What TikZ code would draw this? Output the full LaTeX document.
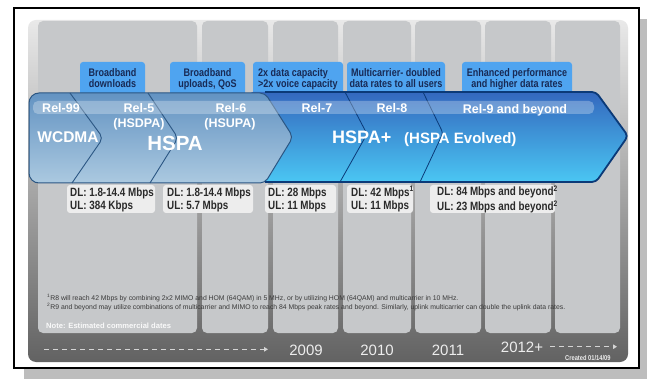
\documentclass[tikz,border=0pt]{standalone}
\usepackage{fontspec}
\setmainfont{Liberation Sans}
\newfontfamily\narrowfont[FakeStretch=0.82]{Liberation Sans}
\usetikzlibrary{arrows.meta}

% palette
\definecolor{shadowgray}{HTML}{BDBDBD}
\definecolor{colgray}{HTML}{C6C8CA}
\definecolor{tagblue}{HTML}{4FA4F0}
\definecolor{tagink}{HTML}{182A55}
\definecolor{boxfill}{HTML}{EDEDED}
\definecolor{boxink}{HTML}{2A2A2A}
\definecolor{yearink}{HTML}{EDEDED}
\definecolor{noteink}{HTML}{3A3A3A}
\definecolor{dashgray}{HTML}{D5D5D5}
\definecolor{olddark}{HTML}{2B5683}
\definecolor{navy}{HTML}{0B3A78}
% panel background
\definecolor{pbot}{HTML}{626262}
\definecolor{pmid}{HTML}{ABABAB}
\definecolor{ptop}{HTML}{E9E9E9}
% HSPA+ body
\definecolor{hbBottom}{HTML}{4AC6F3}
\definecolor{hbMiddle}{HTML}{3A92DD}
\definecolor{hbTop}{HTML}{3468BE}
% WCDMA / HSPA body
\definecolor{obBottom}{HTML}{ABC9E0}
\definecolor{obMiddle}{HTML}{8BB1D3}
\definecolor{obTop}{HTML}{6393C2}

\begin{document}
\begin{tikzpicture}[x=1pt,y=-1pt,
  column/.style={fill=colgray, rounded corners=5pt},
  tagbox/.style={fill=tagblue, rounded corners=3pt, inner sep=0pt, minimum height=34pt},
  tagtext/.style={text=tagink, font=\narrowfont\bfseries\fontsize{11}{11.5}\selectfont, inner sep=0pt},
  databox/.style={fill=boxfill, rounded corners=3pt, inner sep=0pt, minimum height=28pt},
  datatext/.style={text=boxink, font=\narrowfont\bfseries\fontsize{12}{13.3}\selectfont, inner sep=0pt, align=left, anchor=west},
  rel/.style={text=white, font=\bfseries\fontsize{12.5}{14}\selectfont, inner sep=0pt, anchor=base},
  bigname/.style={text=white, inner sep=0pt},
  yearlabel/.style={text=yearink, font=\fontsize{15}{16}\selectfont, inner sep=0pt, anchor=base},
  fnote/.style={text=noteink, font=\fontsize{6.85}{7}\selectfont, inner sep=0pt, anchor=base west},
  timeline/.style={draw=dashgray, line width=1.3pt, dash pattern=on 5pt off 4pt, -{Triangle[length=4pt,width=4.5pt]}},
  olddivider/.style={draw=olddark, line width=0.9pt, rounded corners=5pt},
  newdivider/.style={draw=navy, line width=0.8pt, rounded corners=3pt},
]
\useasboundingbox (0,0) rectangle (647,379);

% drop shadow and frame
\fill[shadowgray] (24,19) rectangle (648,380);
\draw[black, line width=2.3pt, fill=white] (14,8) rectangle (639,368);

% timeline panel and year columns
\shade[top color=ptop, middle color=pmid, bottom color=pbot, rounded corners=8pt] (28,20) rectangle (628,362);
\fill[column] (38,21) rectangle (197,333);
\fill[column] (202,21) rectangle (268,333);
\fill[column] (273,21) rectangle (338,333);
\fill[column] (343,21) rectangle (411,333);
\fill[column] (415,21) rectangle (481,333);
\fill[column] (485,21) rectangle (551,333);
\fill[column] (555,21) rectangle (620,333);

% feature tags
\node[tagbox, minimum width=65pt] (t1) at (112.5,79) {};
\node[tagtext, align=center] (t1text) at (112.5,79.5) {\strut Broadband\\\strut downloads};
\node[tagbox, minimum width=75pt] (t2) at (207.5,79) {};
\node[tagtext, align=center] (t2text) at (207.5,79.5) {\strut Broadband\\\strut uploads, QoS};
\node[tagbox, minimum width=90pt] (t3) at (298,79) {};
\node[tagtext, align=left, anchor=west] (t3text) at (258,79.5) {\strut 2x data capacity\\\strut >2x voice capacity};
\node[tagbox, minimum width=98pt] (t4) at (396,79) {};
\node[tagtext, align=center] (t4text) at (396,79.5) {\strut Multicarrier- doubled\\\strut data rates to all users};
\node[tagbox, minimum width=110pt] (t5) at (517,79) {};
\node[tagtext, align=center] (t5text) at (517,79.5) {\strut Enhanced performance\\\strut and higher data rates};

% peak rate boxes
\node[databox, minimum width=88pt] (b1) at (111,199) {};
\node[datatext] (b1text) at (70,200) {\strut DL: 1.8-14.4 Mbps\\\strut UL: 384 Kbps};
\node[databox, minimum width=90pt] (b2) at (208,199) {};
\node[datatext] (b2text) at (167,200) {\strut DL: 1.8-14.4 Mbps\\\strut UL: 5.7 Mbps};
\node[databox, minimum width=71pt] (b3) at (300.5,199) {};
\node[datatext] (b3text) at (268,200) {\strut DL: 28 Mbps\\\strut UL: 11 Mbps};
\node[databox, minimum width=66pt] (b4) at (380,199) {};
\node[datatext] (b4text) at (351,200) {\strut DL: 42 Mbps\textsuperscript{1}\\\strut UL: 11 Mbps};
\node[databox, minimum width=125pt] (b5) at (492.5,199) {};
\node[datatext] (b5text) at (437,200) {\strut DL: 84 Mbps and beyond\textsuperscript{2}\\\strut UL: 23 Mbps and beyond\textsuperscript{2}};

% evolution arrow: HSPA+ body
\shade[top color=hbTop, middle color=hbMiddle, bottom color=hbBottom, rounded corners=3pt] (250,92) -- (596,92) -- (628,136) -- (596,182) -- (250,182) -- cycle;
% WCDMA / HSPA body
\shade[top color=obTop, middle color=obMiddle, bottom color=obBottom] (265,93) [rounded corners=10pt] -- (29,93) -- (29,183) [rounded corners=5pt] -- (265,183) -- (293,137) -- cycle;
\draw[olddark, line width=1pt] (265,93) [rounded corners=10pt] -- (29,93) -- (29,183) [rounded corners=5pt] -- (265,183) -- (293,137) -- cycle;
\draw[olddivider] (70,93) -- (103,138) -- (72,183);
\draw[olddivider] (148,93) -- (178,138) -- (150,183);
\draw[newdivider] (345,92) -- (367,134) -- (340,182);
\draw[newdivider] (423,92) -- (443,133) -- (420,182);
\draw[navy, line width=1.8pt, rounded corners=4pt] (265,92) -- (596,92) -- (628,136) -- (596,182) -- (265,182);
% gloss
\fill[white, opacity=0.28, rounded corners=5pt] (33,101) rectangle (594,114);

% release labels
\node[rel] (r99) at (61,113) {Rel-99};
\node[rel] (r5) at (139,113) {Rel-5};
\node[rel] (r5b) at (139,128) {(HSDPA)};
\node[rel] (r6) at (231,113) {Rel-6};
\node[rel] (r6b) at (230,128) {(HSUPA)};
\node[rel] (r7) at (317,113) {Rel-7};
\node[rel] (r8) at (392,113) {Rel-8};
\node[rel] (r9) at (515,114) {Rel-9 and beyond};
\node[bigname, anchor=base, font=\bfseries\fontsize{15.5}{16}\selectfont] (wcdma) at (68,143) {WCDMA};
\node[bigname, anchor=base, font=\bfseries\fontsize{20.5}{21}\selectfont] (hspa) at (175,151) {HSPA};
\node[bigname, anchor=base west, font=\bfseries\fontsize{18}{18}\selectfont] (hspaplus) at (332,144) {HSPA+};
\node[bigname, anchor=base west, font=\bfseries\fontsize{15}{15}\selectfont] (evolved) at (404,144) {(HSPA Evolved)};

% footnotes
\node[fnote] (fn1) at (47,300.5) {\textsuperscript{1}R8 will reach 42 Mbps by combining 2x2 MIMO and HOM (64QAM) in 5 MHz, or by utilizing HOM (64QAM) and multicarrier in 10 MHz.};
\node[fnote] (fn2) at (47,309.5) {\textsuperscript{2}R9 and beyond may utilize combinations of multicarrier and MIMO to reach 84 Mbps peak rates and beyond. Similarly, uplink multicarrier can double the uplink data rates.};
\node[anchor=base west, text=white, opacity=0.9, font=\bfseries\fontsize{7.6}{8}\selectfont, inner sep=0pt] (note) at (46,328) {Note: Estimated commercial dates};

% years along the bottom
\node[yearlabel] (y2009) at (306,355) {2009};
\node[yearlabel] (y2010) at (377,355) {2010};
\node[yearlabel] (y2011) at (448,355) {2011};
\node[yearlabel] (y2012) at (522,352) {2012+};
\coordinate (tlA0) at (44,349.3);
\coordinate (tlA1) at (268,349.3);
\coordinate (tlB0) at (550,346.7);
\coordinate (tlB1) at (617,346.7);
\draw[timeline] (tlA0) -- (tlA1);
\draw[timeline] (tlB0) -- (tlB1);
\node[anchor=base west, text=yearink, font=\narrowfont\bfseries\fontsize{7}{7}\selectfont, inner sep=0pt] (created) at (565,360) {Created 01/14/09};
\end{tikzpicture}
\end{document}
